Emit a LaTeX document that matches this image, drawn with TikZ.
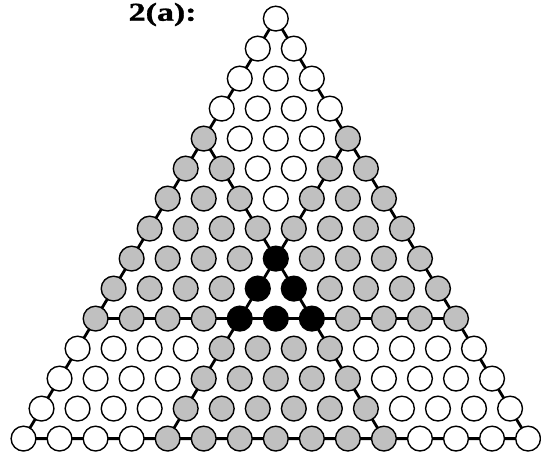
\documentclass[tikz,border=0pt]{standalone}
\usepackage{fontspec}
\setmainfont{Liberation Serif}
\newfontface\lblfont[FakeStretch=1.32,FakeBold=1.2]{Liberation Serif Bold}
\usetikzlibrary{backgrounds}
\definecolor{ballgray}{RGB}{192,192,192}
\tikzset{
  ball/.style={circle, draw=black, line width=1.4pt, minimum size=24.8pt, inner sep=0pt},
  wball/.style={ball, fill=white},
  gball/.style={ball, fill=ballgray},
  bball/.style={ball, fill=black},
  link/.style={line width=2.8pt, draw=black},
}
\begin{document}
\begin{tikzpicture}[x=1pt,y=-1pt]
\useasboundingbox (0,0) rectangle (541,453);
\foreach \r in {0,...,14}{
  \foreach \k in {0,...,\r}{
    \pgfmathtruncatemacro\cnt{(\k>3)+((\r-\k)>3)+((14-\r)>3)}
    \ifnum\cnt=3 \def\sty{bball}\else\ifnum\cnt=2 \def\sty{gball}\else\def\sty{wball}\fi\fi
    \node[\sty] (n-\r-\k) at ({275.8+(\k-\r/2)*36.04},{18.6+30*\r}) {};
  }
}
\begin{scope}[on background layer]
  \draw[link] (n-0-0.center) -- (n-14-0.center) -- (n-14-14.center) -- cycle;
  \draw[link] (n-4-0.center) -- (n-14-10.center);
  \draw[link] (n-4-4.center) -- (n-14-4.center);
  \draw[link] (n-10-0.center) -- (n-10-10.center);
\end{scope}
\node[anchor=base west, font=\lblfont\fontsize{25.7}{30}\selectfont, inner sep=0pt] (lbl) at (128.5,20.7) {2(a):};
\end{tikzpicture}
\end{document}
